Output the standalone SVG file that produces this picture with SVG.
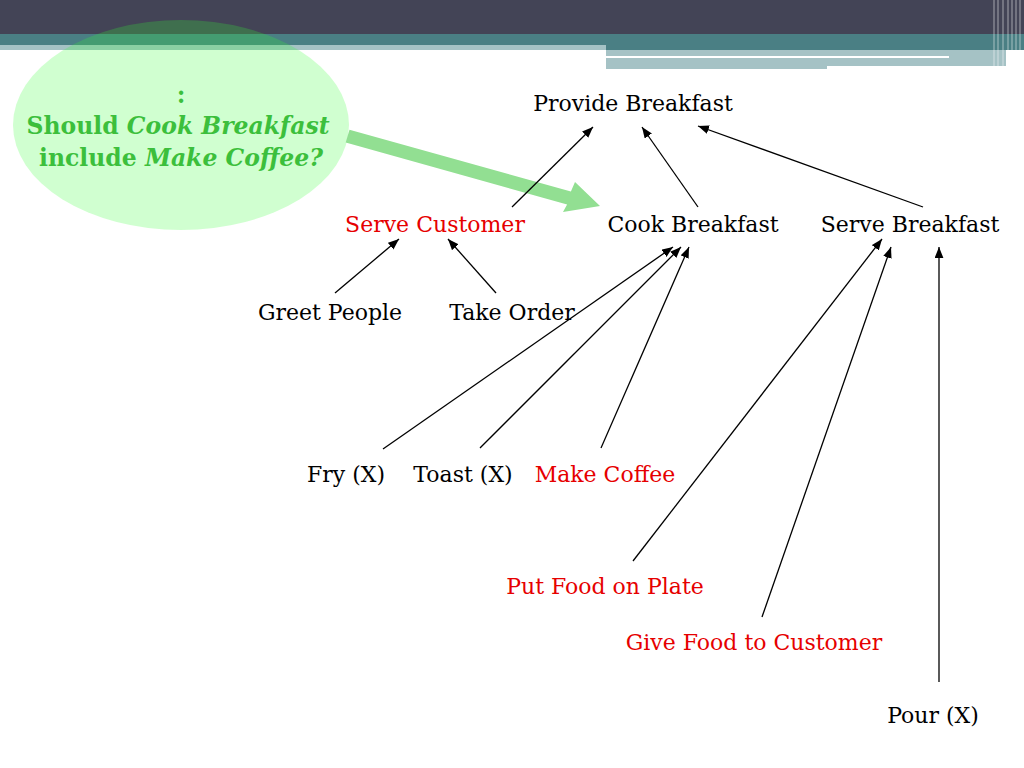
<svg xmlns="http://www.w3.org/2000/svg" width="1024" height="768" viewBox="0 0 1024 768">
<style>
.t{font-family:"DejaVu Serif","Liberation Serif",serif;font-size:22px;text-anchor:middle}
.k{fill:#000}
.r{fill:#e60000}
.g{font-family:"DejaVu Serif","Liberation Serif",serif;font-size:23.5px;font-weight:bold;fill:#3cbf3c;text-anchor:middle}
.c{stroke:#000;stroke-width:1.3;fill:none;marker-end:url(#ah)}
.vs{stroke:#fff;stroke-opacity:0.35;stroke-width:1.5}
</style>
<defs>
<marker id="ah" viewBox="0 0 10 8" refX="10" refY="4" markerWidth="11" markerHeight="9" markerUnits="userSpaceOnUse" orient="auto">
<path d="M0,0 L10,4 L0,8 Z" fill="#000"/>
</marker>
</defs>
<rect width="1024" height="768" fill="#fff"/>
<g id="banner">
<rect x="0" y="0" width="1024" height="34" fill="#434456"/>
<rect x="0" y="34" width="1024" height="11" fill="#4a7f84"/>
<rect x="0" y="45" width="606" height="5" fill="#a5c2c5"/>
<rect x="606" y="45" width="418" height="5" fill="#4a7f84"/>
<rect x="606" y="50" width="400" height="16" fill="#a5c2c5"/>
<rect x="606" y="56" width="343" height="2" fill="#fff"/>
<rect x="606" y="66" width="221" height="3" fill="#a5c2c5"/>
<line class="vs" x1="994" y1="0" x2="994" y2="68"/>
<line class="vs" x1="998" y1="0" x2="998" y2="68"/>
<line class="vs" x1="1003" y1="0" x2="1003" y2="68"/>
<line class="vs" x1="1008" y1="0" x2="1008" y2="68"/>
<line class="vs" x1="1012" y1="0" x2="1012" y2="68"/>
<line class="vs" x1="1016" y1="0" x2="1016" y2="68"/>
<line class="vs" x1="1020" y1="0" x2="1020" y2="68"/>
</g>
<g id="question">
<ellipse cx="181" cy="125" rx="168" ry="105" fill="rgb(51,255,51)" fill-opacity="0.23"/>
<text class="g" x="181" y="103">:</text>
<text class="g" x="178" y="134">Should <tspan font-style="italic">Cook Breakfast</tspan></text>
<text class="g" x="181" y="166">include <tspan font-style="italic">Make Coffee?</tspan></text>
</g>
<g id="big-arrow">
<path d="M349.5,129.8 L570.9,191.6 L575,182 L600,206 L563,212 L567.1,204.4 L345.7,142.6 Z" fill="#92df92"/>
</g>
<g id="connectors">
<line class="c" x1="512" y1="207" x2="593" y2="127"/>
<line class="c" x1="698" y1="207" x2="642" y2="127"/>
<line class="c" x1="923" y1="207" x2="698" y2="126"/>
<line class="c" x1="335" y1="293" x2="399" y2="239"/>
<line class="c" x1="496" y1="293" x2="448" y2="239"/>
<line class="c" x1="383" y1="449" x2="673" y2="247"/>
<line class="c" x1="480" y1="448" x2="681" y2="247"/>
<line class="c" x1="601" y1="448" x2="689" y2="247"/>
<line class="c" x1="633" y1="561" x2="882" y2="239"/>
<line class="c" x1="762" y1="617" x2="891" y2="247"/>
<line class="c" x1="939" y1="682" x2="939" y2="247"/>
</g>
<g id="provide-breakfast"><text class="t k" x="633" y="111">Provide Breakfast</text></g>
<g id="serve-customer"><text class="t r" x="435" y="232">Serve Customer</text></g>
<g id="cook-breakfast"><text class="t k" x="693" y="232">Cook Breakfast</text></g>
<g id="serve-breakfast"><text class="t k" x="910" y="232">Serve Breakfast</text></g>
<g id="greet-people"><text class="t k" x="330" y="320">Greet People</text></g>
<g id="take-order"><text class="t k" x="512" y="320">Take Order</text></g>
<g id="fry"><text class="t k" x="346" y="482">Fry (X)</text></g>
<g id="toast"><text class="t k" x="463" y="482">Toast (X)</text></g>
<g id="make-coffee"><text class="t r" x="605" y="482">Make Coffee</text></g>
<g id="put-food"><text class="t r" x="605" y="594">Put Food on Plate</text></g>
<g id="give-food"><text class="t r" x="754" y="650">Give Food to Customer</text></g>
<g id="pour"><text class="t k" x="933" y="723">Pour (X)</text></g>
</svg>
